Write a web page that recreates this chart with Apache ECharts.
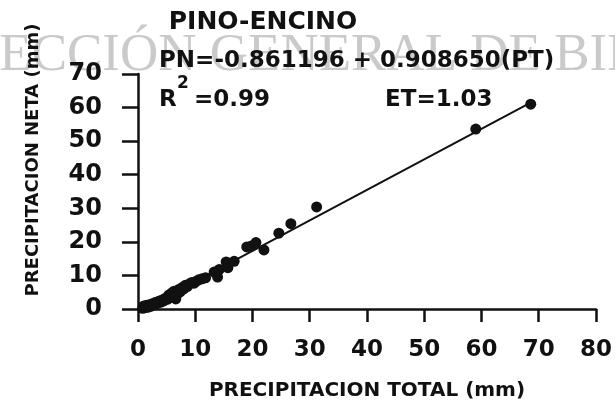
<!DOCTYPE html>
<html>
<head>
<meta charset="utf-8">
<script src="https://cdn.jsdelivr.net/npm/echarts@6/dist/echarts.min.js"></script>
<style>
  html, body { margin: 0; padding: 0; background: #ffffff; }
  #chart { width: 615px; height: 406px; }
</style>
</head>
<body>
<div id="chart"></div>
<script>
// Precipitación total (PT) vs. precipitación neta (PN), bosque de pino-encino
const precipTotal = [
  0.8, 1.0, 1.2, 1.5, 1.7, 2.0, 2.2, 2.5, 2.8, 3.0, 3.3, 3.6, 3.9, 4.2, 4.5, 4.8,
  5.1, 5.4, 5.6, 5.9, 6.1, 6.3, 6.6, 6.9, 7.1, 7.4, 7.7, 8.0, 8.3, 8.6, 9.0, 9.4,
  9.8, 10.2, 10.6, 11.2, 11.8, 13.3, 13.9, 14.2, 15.4, 15.7, 16.8, 19.0, 19.8,
  20.6, 22.0, 24.6, 26.7, 31.2, 59.0, 68.6
];
const precipNeta = [
  0.2, 0.9, 0.4, 1.1, 0.5, 1.3, 0.8, 1.6, 1.2, 1.9, 1.6, 2.3, 2.0, 2.7, 2.4, 3.2,
  2.9, 4.2, 3.4, 4.8, 3.8, 5.3, 3.0, 4.5, 5.8, 5.2, 6.4, 6.0, 7.1, 6.7, 7.5, 7.9,
  7.7, 8.3, 8.7, 9.0, 9.3, 11.0, 9.5, 11.8, 14.0, 12.3, 14.2, 18.5, 18.8,
  19.8, 17.6, 22.6, 25.4, 30.4, 53.6, 61.0
];

// Regression reported on the chart: PN = a + b(PT)
const intercept = -0.861196;
const slope = 0.908650;
const fitRange = [1.0, 69.0];

const xTicks = ['0', '10', '20', '30', '40', '50', '60', '70', '80'];
const yTicks = ['0', '10', '20', '30', '40', '50', '60', '70'];

const titleText = 'PINO-ENCINO';
const equationText = 'PN=-0.861196 + 0.908650(PT)';
const r2Value = '=0.99';
const etText = 'ET=1.03';
const xTitle = 'PRECIPITACION TOTAL (mm)';
const yTitle = 'PRECIPITACION NETA (mm)';
const watermark = 'DIRECCIÓN GENERAL DE BIBLIOTECAS';

const points = precipTotal.map((x, i) => [x, precipNeta[i]]);
const fitLine = fitRange.map(x => [x, intercept + slope * x]);

const FONT = "'DejaVu Sans', sans-serif";
const ink = '#111111';

const chart = echarts.init(document.getElementById('chart'), null, { renderer: 'canvas' });

chart.setOption({
  animation: false,
  backgroundColor: '#ffffff',
  grid: { left: 138, right: 17, top: 74, bottom: 97, containLabel: false },
  xAxis: {
    type: 'value', min: 0, max: 80, interval: 10,
    axisLine: { show: true, lineStyle: { color: ink, width: 2.5 } },
    axisTick: { show: true, inside: false, length: 13, lineStyle: { color: ink, width: 2.5 } },
    axisLabel: {
      margin: 30, color: ink, fontFamily: FONT, fontWeight: 'bold', fontSize: 23,
      formatter: v => xTicks[Math.round(v / 10)]
    },
    splitLine: { show: false },
    name: xTitle, nameLocation: 'middle', nameGap: 72,
    nameTextStyle: { color: ink, fontFamily: FONT, fontWeight: 'bold', fontSize: 20 }
  },
  yAxis: {
    type: 'value', min: 0, max: 70, interval: 10,
    axisLine: { show: true, onZero: false, lineStyle: { color: ink, width: 2.5 } },
    axisTick: { show: true, inside: false, length: 16, lineStyle: { color: ink, width: 2.5 } },
    axisLabel: {
      margin: 36, color: ink, fontFamily: FONT, fontWeight: 'bold', fontSize: 24,
      formatter: v => yTicks[Math.round(v / 10)]
    },
    splitLine: { show: false }
  },
  graphic: [
    {
      type: 'text', z: 0, silent: true,
      style: {
        text: watermark, x: -92, y: 56, fill: '#cacaca',
        font: "53px 'Liberation Serif', serif", textVerticalAlign: 'middle'
      }
    },
    {
      type: 'text', z: 10, x: 33, y: 160, rotation: Math.PI / 2,
      style: {
        text: yTitle, x: 0, y: 0, fill: ink, textAlign: 'center', textVerticalAlign: 'middle',
        font: "bold 18px " + FONT
      }
    },
    {
      type: 'text', z: 10,
      style: {
        text: titleText, x: 263, y: 22, fill: ink, textAlign: 'center', textVerticalAlign: 'middle',
        font: "bold 25px " + FONT
      }
    },
    {
      type: 'text', z: 10,
      style: {
        text: equationText, x: 159, y: 61, fill: ink, textAlign: 'left', textVerticalAlign: 'middle',
        font: "bold 23px " + FONT
      }
    },
    {
      type: 'text', z: 10,
      style: {
        text: 'R', x: 159, y: 100, fill: ink, textAlign: 'left', textVerticalAlign: 'middle',
        font: "bold 23px " + FONT
      }
    },
    {
      type: 'text', z: 10,
      style: {
        text: '2', x: 177, y: 84, fill: ink, textAlign: 'left', textVerticalAlign: 'middle',
        font: "bold 17px " + FONT
      }
    },
    {
      type: 'text', z: 10,
      style: {
        text: r2Value, x: 194, y: 100, fill: ink, textAlign: 'left', textVerticalAlign: 'middle',
        font: "bold 23px " + FONT
      }
    },
    {
      type: 'text', z: 10,
      style: {
        text: etText, x: 385, y: 100, fill: ink, textAlign: 'left', textVerticalAlign: 'middle',
        font: "bold 23px " + FONT
      }
    }
  ],
  series: [
    {
      type: 'line', data: fitLine, showSymbol: false, z: 3,
      lineStyle: { color: ink, width: 2 }
    },
    {
      type: 'scatter', data: points, symbol: 'circle', symbolSize: 11, z: 4,
      itemStyle: { color: ink, opacity: 1 }
    }
  ]
});
</script>
</body>
</html>
